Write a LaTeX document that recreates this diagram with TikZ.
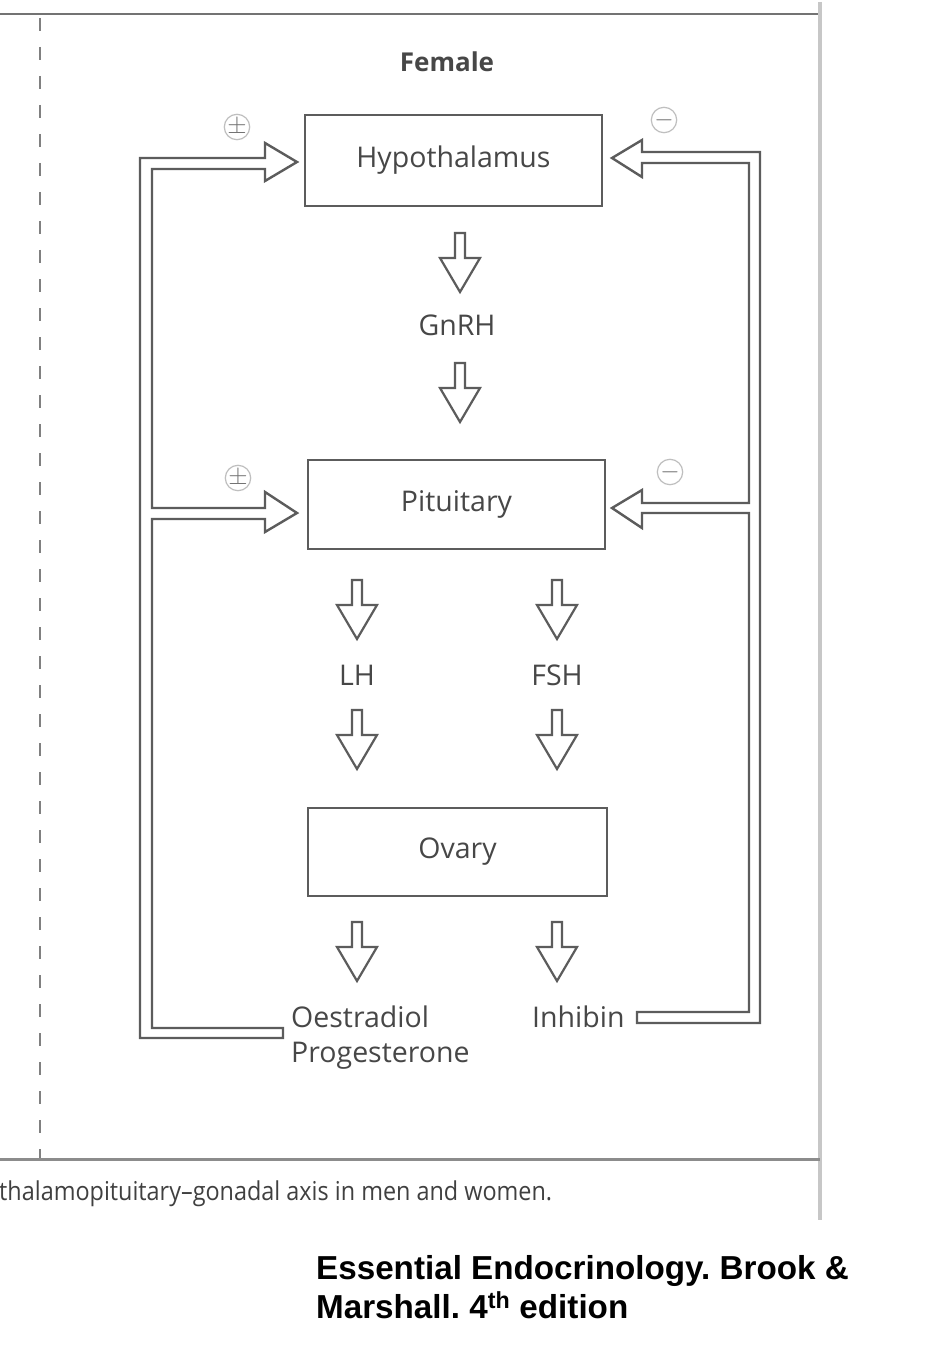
\documentclass[tikz,border=0pt]{standalone}
\usepackage{fontspec}
\setmainfont{Open Sans}
\newfontfamily\citefont{Liberation Sans}
\definecolor{lg}{HTML}{5C5C5C}
\definecolor{tg}{HTML}{474747}
\begin{document}
\frenchspacing
\begin{tikzpicture}[x=1pt,y=-1pt,
  box/.style={draw=lg, line width=2.6pt, inner sep=0pt},
  lbl/.style={text=tg, font=\fontsize{28.5}{34}\selectfont, inner sep=0pt},
  circ/.style={circle, draw=black!25, line width=1.2pt, minimum size=25pt, inner sep=0pt, text=black!55, font=\fontsize{25}{25}\selectfont},
  arrline/.style={draw=lg, line width=2.2pt, line join=miter},
  pipe/.style={draw=lg, line width=2.4pt, line join=miter},
  downarr/.pic={\draw[arrline] (-5,0) -- (-5,25) -- (-20,25) -- (0,59) -- (20,25) -- (5,25) -- (5,0) -- cycle;}
]
\useasboundingbox (0,0) rectangle (924,1348);
\fill[white] (0,0) rectangle (924,1348);

% page frame
\draw[black!55, line width=2.5pt] (0,14) -- (820,14);
\draw[black!22, line width=4pt] (820,2) -- (820,1220);
\draw[black!45, line width=3pt] (0,1159) -- (820,1159);
\draw[black!50, line width=2pt, dash pattern=on 13pt off 16pt] (40,18) -- (40,1158);

% title
\node[lbl, font=\fontsize{26}{30}\selectfont\bfseries] (fem) at (447,62) {Female};

% boxes
\node[box, minimum width=297pt, minimum height=91pt] (hyp) at (453.5,160.5) {};
\node[lbl] at (hyp) {Hypothalamus};
\node[box, minimum width=297pt, minimum height=89pt] (pit) at (456.5,504.5) {};
\node[lbl] at (pit) {Pituitary};
\node[box, minimum width=299pt, minimum height=88pt] (ova) at (457.5,852) {};
\node[lbl] at (ova) {Ovary};

% hormone labels
\node[lbl] (gnrh) at (457,325) {GnRH};
\node[lbl] (lh) at (357,675) {LH};
\node[lbl] (fsh) at (557,675) {FSH};
\node[lbl, anchor=base west] (oes) at (291,1027) {Oestradiol};
\node[lbl, anchor=base west] (prog) at (291,1062) {Progesterone};
\node[lbl, anchor=base west] (inh) at (532,1027) {Inhibin};

% hollow down arrows
\pic at (460,233) {downarr};
\pic at (460,363) {downarr};
\pic at (357,580) {downarr};
\pic at (557,580) {downarr};
\pic at (357,710) {downarr};
\pic at (557,710) {downarr};
\pic at (357,922) {downarr};
\pic at (557,922) {downarr};

% left feedback pipe (stimulatory)
\draw[pipe] (283,1038) -- (140,1038) -- (140,158) -- (265,158) -- (265,143) -- (297,162)
  -- (265,181) -- (265,169) -- (152,169) -- (152,508) -- (265,508) -- (265,492)
  -- (297,513) -- (265,532) -- (265,519) -- (152,519) -- (152,1028) -- (283,1028) -- cycle;

% right feedback pipe (inhibitory)
\draw[pipe] (637,1012) -- (749,1012) -- (749,513) -- (642,513) -- (642,528) -- (612,508)
  -- (642,490) -- (642,503) -- (749,503) -- (749,163) -- (642,163) -- (642,177)
  -- (612,158) -- (642,140) -- (642,152) -- (760,152) -- (760,1023) -- (637,1023) -- cycle;

% signs
\node[circ] (s1) at (237,127) {$\pm$};
\node[circ] (s2) at (238,478) {$\pm$};
\node[circ] (s3) at (664,120) {$-$};
\node[circ] (s4) at (670,472) {$-$};

% caption
\node[anchor=base west, inner sep=0pt, text=black!75] (cap) at (-1,1200)
  {\scalebox{0.9}[1]{\fontsize{26}{30}\selectfont thalamopituitary–gonadal axis in men and women.}};

% citation
\node[anchor=base west, inner sep=0pt, font=\citefont\bfseries\fontsize{33.2}{38}\selectfont] (c1) at (316,1279)
  {Essential Endocrinology. Brook \&};
\node[anchor=base west, inner sep=0pt, font=\citefont\bfseries\fontsize{33.2}{38}\selectfont] (c2) at (316,1318)
  {Marshall. 4\textsuperscript{th} edition};
\end{tikzpicture}
\end{document}
